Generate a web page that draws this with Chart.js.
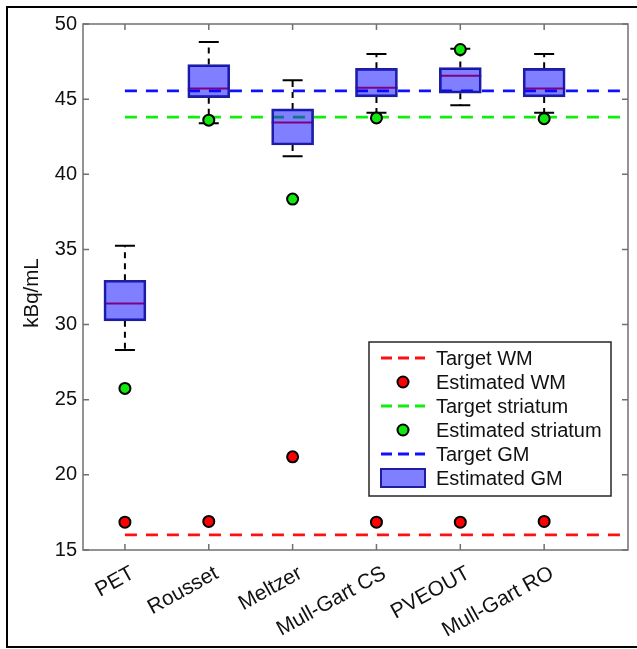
<!DOCTYPE html>
<html>
<head>
<meta charset="utf-8">
<script src="https://cdn.jsdelivr.net/npm/chart.js@4/dist/chart.umd.min.js"></script>
<style>
  html, body { margin: 0; padding: 0; background: #fff; }
  #wrap { width: 637px; height: 649px; }
</style>
</head>
<body>
<div id="wrap"><canvas id="chart" width="637" height="649"></canvas></div>
<script>
// data
const methods = ['PET', 'Rousset', 'Meltzer', 'Mull-Gart CS', 'PVEOUT', 'Mull-Gart RO'];
const gmWhiskerLow  = [28.3, 43.4, 41.2, 44.1, 44.6, 44.1];
const gmQ1          = [30.25, 45.1, 41.95, 45.15, 45.4, 45.15];
const gmMedian      = [31.4, 45.7, 43.45, 45.75, 46.55, 45.7];
const gmQ3          = [32.95, 47.3, 44.35, 47.05, 47.1, 47.05];
const gmWhiskerHigh = [35.25, 48.8, 46.25, 48.0, 48.35, 48.0];
const estWM        = [16.85, 16.9, 21.2, 16.85, 16.85, 16.9];
const estStriatum  = [25.75, 43.6, 38.35, 43.75, 48.3, 43.7];
const targetWM = 16.0;
const targetStriatum = 43.8;
const targetGM = 45.55;
const targetSpan = [1, 6.95];
const yTicks = [15, 20, 25, 30, 35, 40, 45, 50];
const yTitle = 'kBq/mL';

const FONT = "'Liberation Sans', Arial, sans-serif";

const targetLine = (label, value, color) => ({
  type: 'line',
  label,
  data: targetSpan.map(x => ({ x, y: value })),
  borderColor: color,
  borderWidth: 2.8,
  borderDash: [12, 9],
  pointRadius: 0,
  order: 2
});

const estPoints = (label, values, color) => ({
  type: 'scatter',
  label,
  data: values.map((v, i) => ({ x: i + 1, y: v })),
  showLine: false,
  pointRadius: 5.5,
  pointBackgroundColor: color,
  pointBorderColor: '#000',
  pointBorderWidth: 2,
  order: 0
});

// whiskers and medians go under the translucent boxes
const boxExtras = {
  id: 'boxExtras',
  beforeDatasetsDraw(chart) {
    const { ctx, scales: { x, y } } = chart;
    ctx.save();
    methods.forEach((m, i) => {
      const px = x.getPixelForValue(i + 1);
      ctx.strokeStyle = '#000';
      ctx.lineWidth = 2;
      ctx.setLineDash([6, 5]);
      ctx.beginPath();
      ctx.moveTo(px, y.getPixelForValue(gmQ3[i]));
      ctx.lineTo(px, y.getPixelForValue(gmWhiskerHigh[i]));
      ctx.moveTo(px, y.getPixelForValue(gmQ1[i]));
      ctx.lineTo(px, y.getPixelForValue(gmWhiskerLow[i]));
      ctx.stroke();
      ctx.setLineDash([]);
      ctx.beginPath();
      [gmWhiskerHigh[i], gmWhiskerLow[i]].forEach(v => {
        const py = y.getPixelForValue(v);
        ctx.moveTo(px - 10, py);
        ctx.lineTo(px + 10, py);
      });
      ctx.stroke();
      ctx.strokeStyle = '#ff0000';
      ctx.beginPath();
      const my = y.getPixelForValue(gmMedian[i]);
      ctx.moveTo(px - 21, my);
      ctx.lineTo(px + 21, my);
      ctx.stroke();
    });
    ctx.restore();
  }
};

const frameAndLegend = {
  id: 'frameAndLegend',
  afterDraw(chart) {
    const { ctx, chartArea: a, scales: { x, y } } = chart;
    ctx.save();
    // axes box with inward ticks
    ctx.strokeStyle = '#707070';
    ctx.lineWidth = 1.5;
    ctx.strokeRect(a.left, a.top, a.right - a.left, a.bottom - a.top);
    ctx.beginPath();
    y.ticks.forEach(t => {
      const py = y.getPixelForValue(t.value);
      ctx.moveTo(a.left, py); ctx.lineTo(a.left + 6, py);
      ctx.moveTo(a.right, py); ctx.lineTo(a.right - 6, py);
    });
    x.ticks.forEach(t => {
      const px = x.getPixelForValue(t.value);
      ctx.moveTo(px, a.bottom); ctx.lineTo(px, a.bottom - 6);
      ctx.moveTo(px, a.top); ctx.lineTo(px, a.top + 6);
    });
    ctx.stroke();

    // y axis title, sits a bit below the axis middle in the original
    ctx.save();
    ctx.translate(32, y.getPixelForValue(32.1));
    ctx.rotate(-Math.PI / 2);
    ctx.font = '20.5px ' + FONT;
    ctx.fillStyle = '#111';
    ctx.textAlign = 'center';
    ctx.textBaseline = 'middle';
    ctx.fillText(yTitle, 0, 0);
    ctx.restore();

    // legend
    const L = { left: 369, top: 342, width: 242, height: 154, row: 24, sx: 381, sw: 44, tx: 436 };
    ctx.fillStyle = '#fff';
    ctx.fillRect(L.left, L.top, L.width, L.height);
    ctx.strokeStyle = '#262626';
    ctx.lineWidth = 1.5;
    ctx.strokeRect(L.left, L.top, L.width, L.height);
    ctx.font = '20px ' + FONT;
    ctx.textBaseline = 'middle';
    chart.data.datasets.forEach((ds, i) => {
      const cy = L.top + 16 + i * L.row;
      if (ds.type === 'line') {
        ctx.strokeStyle = ds.borderColor;
        ctx.lineWidth = ds.borderWidth;
        ctx.setLineDash([11, 6]);
        ctx.beginPath();
        ctx.moveTo(L.sx, cy); ctx.lineTo(L.sx + L.sw, cy);
        ctx.stroke();
        ctx.setLineDash([]);
      } else if (ds.type === 'scatter') {
        ctx.fillStyle = ds.pointBackgroundColor;
        ctx.strokeStyle = '#000';
        ctx.lineWidth = 2;
        ctx.beginPath();
        ctx.arc(L.sx + L.sw / 2, cy, 5.5, 0, Math.PI * 2);
        ctx.fill(); ctx.stroke();
      } else {
        ctx.fillStyle = ds.backgroundColor;
        ctx.fillRect(L.sx, cy - 9, L.sw, 18);
        ctx.strokeStyle = ds.borderColor;
        ctx.lineWidth = 2;
        ctx.strokeRect(L.sx, cy - 9, L.sw, 18);
      }
      ctx.fillStyle = '#111';
      ctx.fillText(ds.label, L.tx, cy + 1);
    });

    // figure border
    ctx.strokeStyle = '#000';
    ctx.lineWidth = 2;
    ctx.strokeRect(7, 7, 680, 640);
    ctx.restore();
  }
};

new Chart(document.getElementById('chart'), {
  type: 'scatter',
  data: {
    datasets: [
      targetLine('Target WM', targetWM, '#ff1010'),
      estPoints('Estimated WM', estWM, '#ff0000'),
      targetLine('Target striatum', targetStriatum, '#10ee10'),
      estPoints('Estimated striatum', estStriatum, '#10e810'),
      targetLine('Target GM', targetGM, '#1010ff'),
      {
        type: 'bar',
        label: 'Estimated GM',
        data: methods.map((m, i) => ({ x: i + 1, y: [gmQ1[i], gmQ3[i]] })),
        backgroundColor: 'rgba(0, 0, 255, 0.5)',
        borderColor: '#1e1e9e',
        borderWidth: 2,
        borderSkipped: false,
        barThickness: 42,
        order: 1
      }
    ]
  },
  options: {
    responsive: false,
    animation: false,
    events: [],
    layout: { padding: { left: 0, top: 24, right: 9, bottom: 0 } },
    plugins: { legend: { display: false }, tooltip: { enabled: false } },
    scales: {
      x: {
        type: 'linear',
        min: 0.5,
        max: 7,
        offset: false,
        grid: { display: false, drawTicks: false },
        border: { display: false },
        afterBuildTicks: s => { s.ticks = methods.map((m, i) => ({ value: i + 1 })); },
        afterFit: s => { s.height = 99; },
        ticks: {
          autoSkip: false,
          maxRotation: 29,
          minRotation: 29,
          padding: 11,
          labelOffset: 8,
          color: '#111',
          font: { family: FONT, size: 21 },
          callback: v => methods[v - 1] ?? ''
        }
      },
      y: {
        min: 15,
        max: 50,
        grid: { display: false, drawTicks: false },
        border: { display: false },
        afterBuildTicks: s => { s.ticks = yTicks.map(v => ({ value: v })); },
        afterFit: s => { s.width = 83; },
        ticks: { padding: 6, color: '#111', font: { family: FONT, size: 20 } }
      }
    }
  },
  plugins: [boxExtras, frameAndLegend]
});
</script>
</body>
</html>
